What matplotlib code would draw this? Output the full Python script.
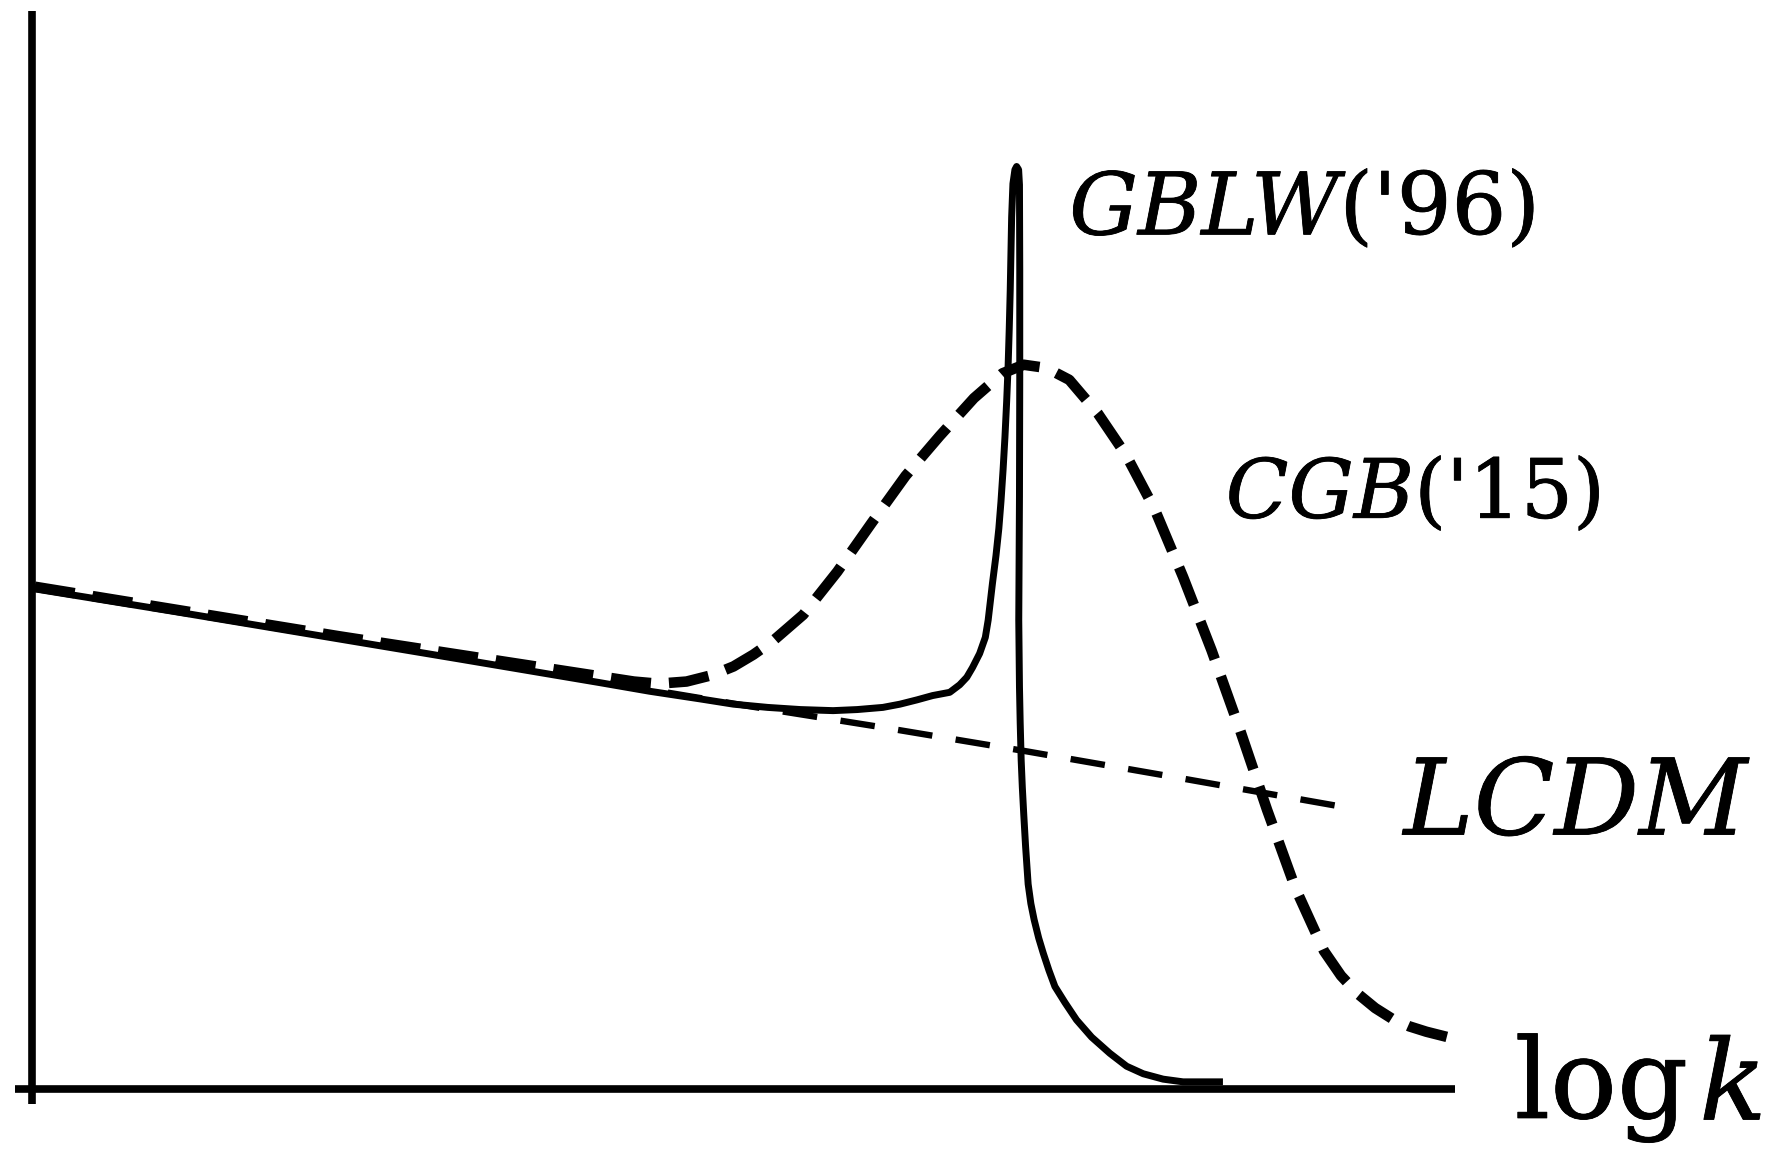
import matplotlib
matplotlib.use("Agg")
import matplotlib.pyplot as plt
import matplotlib.patheffects as pe

# Power spectra sketch, x = log k, y = log P (arbitrary units)
lcdm_x = [0.02, 1.0, 2.0, 3.0, 4.0, 5.0, 6.0, 7.0, 8.0, 9.2]
lcdm_y = [4.66, 4.44, 4.22, 4.00, 3.78, 3.56, 3.35, 3.13, 2.90, 2.62]

gblw_x = [0.02, 1.0, 2.0, 3.0, 3.99, 4.34, 4.69, 4.93, 5.17, 5.40, 5.63, 5.80,
          5.98, 6.10, 6.22, 6.33, 6.45, 6.52, 6.57, 6.61, 6.66, 6.70, 6.72,
          6.75, 6.775, 6.795, 6.81, 6.825, 6.838, 6.85, 6.86, 6.868, 6.875,
          6.88, 6.885, 6.894, 6.908, 6.92, 6.934, 6.94, 6.942, 6.942, 6.94,
          6.935, 6.94, 6.945, 6.952, 6.96, 6.97, 6.983, 7.001, 7.02, 7.043,
          7.075, 7.107, 7.147, 7.189, 7.26, 7.341, 7.447, 7.575, 7.693, 7.81,
          7.95, 8.09, 8.37]
gblw_y = [4.64, 4.43, 4.21, 3.99, 3.77, 3.69, 3.62, 3.57, 3.54, 3.52, 3.51, 3.52,
          3.54, 3.57, 3.61, 3.65, 3.68, 3.75, 3.82, 3.91, 4.04, 4.19, 4.35,
          4.69, 4.95, 5.20, 5.45, 5.75, 6.05, 6.38, 6.70, 7.05, 7.41,
          7.75, 8.09, 8.40, 8.53, 8.56, 8.53, 8.39, 7.60, 6.60, 5.50,
          4.35, 3.73, 3.40, 3.05, 2.80, 2.55, 2.25, 1.90, 1.72, 1.57,
          1.40, 1.26, 1.10, 0.95, 0.80, 0.64, 0.48, 0.33, 0.21, 0.14,
          0.09, 0.065, 0.065]

cgb_x = [0.02, 2.16, 4.23, 4.40, 4.60, 4.78, 4.93, 5.07, 5.21, 5.42, 5.66, 5.90,
         6.14, 6.38, 6.62, 6.82, 6.97, 7.13, 7.29, 7.49, 7.69, 7.89, 8.09, 8.29,
         8.49, 8.68, 8.88, 9.08, 9.20, 9.32, 9.44, 9.56, 9.68, 9.80, 9.98]
cgb_y = [4.66, 4.20, 3.78, 3.76, 3.78, 3.84, 3.92, 4.03, 4.16, 4.40, 4.80, 5.25,
         5.69, 6.06, 6.41, 6.64, 6.72, 6.69, 6.58, 6.27, 5.88, 5.38, 4.75, 4.07,
         3.33, 2.59, 1.86, 1.28, 1.05, 0.88, 0.75, 0.65, 0.58, 0.53, 0.47]

FONT = "DejaVu Serif"
plt.rcParams["lines.scale_dashes"] = False

fig = plt.figure(figsize=(17.75, 11.59), dpi=100)
ax = fig.add_axes([0, 0, 1, 1])
ax.set_xlim(-0.225, 12.25)
ax.set_ylim(-0.651, 10.105)
ax.axis("off")

# coordinate axes
ax.plot([0, 0], [-0.137, 10.0], color="black", lw=5.5, solid_capstyle="butt")
ax.plot([-0.12, 10.0], [0, 0], color="black", lw=5.5, solid_capstyle="butt")

# curves
ax.plot(lcdm_x, lcdm_y, color="black", lw=4.6, dashes=(25, 17))
ax.plot(gblw_x, gblw_y, color="black", lw=5.0, solid_joinstyle="round",
        solid_capstyle="butt")
ax.plot(cgb_x, cgb_y, color="black", lw=7.6, dashes=(29, 13))

heavy = [pe.withStroke(linewidth=0.6, foreground="black")]


def label(x, y, first, second, size, first_italic=True, gap=0):
    s1 = "italic" if first_italic else "normal"
    s2 = "normal" if first_italic else "italic"
    t1 = ax.text(x, y, first, fontsize=size, family=FONT, fontstyle=s1,
                 ha="left", va="baseline", path_effects=heavy)
    if second:
        ax.annotate(second, xy=(1, 0), xycoords=t1, xytext=(gap, 0),
                    textcoords="offset points", fontsize=size, family=FONT,
                    fontstyle=s2, ha="left", va="bottom", path_effects=heavy)


label(7.29, 7.93, "GBLW", "('96)", 62)
label(8.39, 5.30, "CGB", "('15)", 59)
label(9.64, 2.36, "LCDM", "", 76)
label(10.42, -0.27, "log", "k", 80, first_italic=False, gap=8)

fig.savefig("out.png", dpi=100)
